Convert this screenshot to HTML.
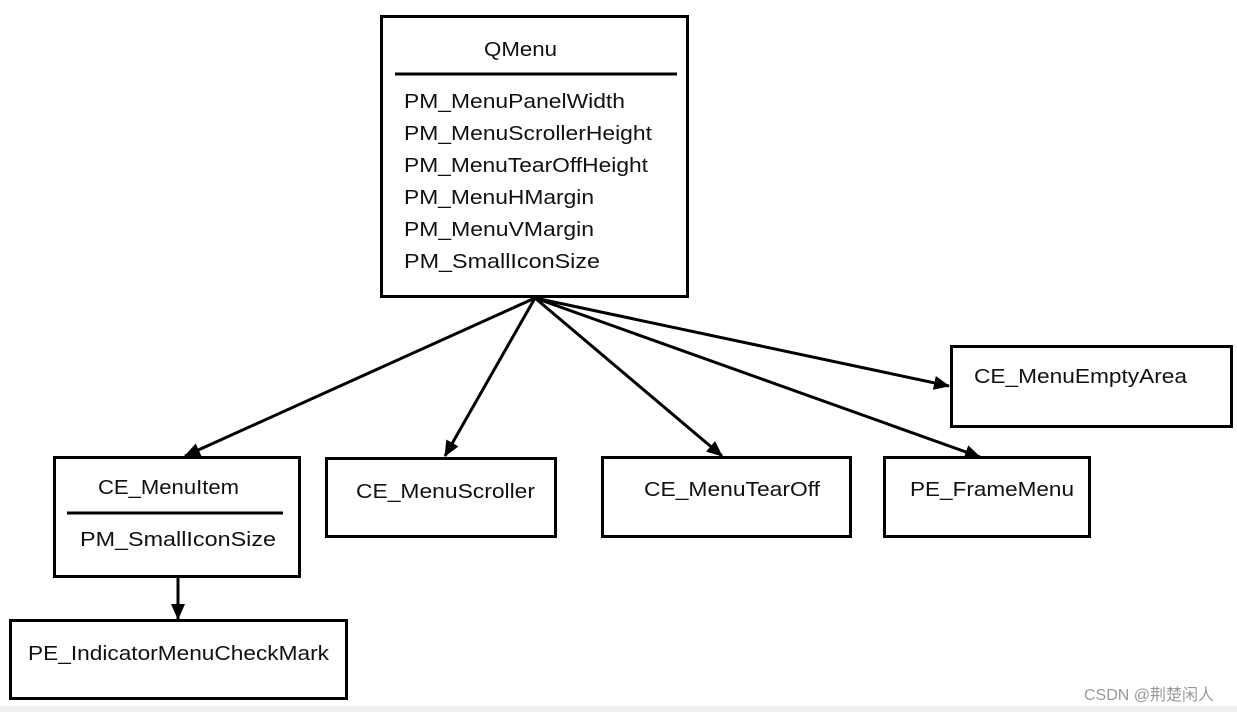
<!DOCTYPE html>
<html><head><meta charset="utf-8"><style>
html,body{margin:0;padding:0;background:#fff;}
svg{display:block;}
text{font-family:"Liberation Sans","DejaVu Sans",sans-serif;font-size:20px;fill:#111;}
</style></head><body>
<svg width="1237" height="712" viewBox="0 0 1237 712" xmlns="http://www.w3.org/2000/svg">
<defs>
<marker id="a" markerWidth="16" markerHeight="14" refX="15" refY="7" orient="auto" markerUnits="userSpaceOnUse">
<path d="M0,0 L16,7 L0,14 Z" fill="#000"/>
</marker>
</defs>
<rect x="0" y="706" width="1237" height="6" fill="#f0f0f0"/>
<g fill="none" stroke="#000" stroke-width="3">
<rect x="381.5" y="16.5" width="306" height="280"/>
<line x1="395" y1="74" x2="677" y2="74"/>
<rect x="54.5" y="457.5" width="245" height="119"/>
<line x1="67" y1="513" x2="283" y2="513"/>
<rect x="10.5" y="620.5" width="336" height="78"/>
<rect x="326.5" y="458.5" width="229" height="78"/>
<rect x="602.5" y="457.5" width="248" height="79"/>
<rect x="884.5" y="457.5" width="205" height="79"/>
<rect x="951.5" y="346.5" width="280" height="80"/>
</g>
<g stroke="#000" stroke-width="3" marker-end="url(#a)">
<line x1="535" y1="298" x2="185" y2="456"/>
<line x1="535" y1="298" x2="445" y2="456"/>
<line x1="535" y1="298" x2="722" y2="456"/>
<line x1="535" y1="298" x2="980" y2="457"/>
<line x1="535" y1="298" x2="949" y2="386"/>
<line x1="178" y1="578" x2="178" y2="619"/>
</g>
<text x="484" y="56" textLength="73" lengthAdjust="spacingAndGlyphs">QMenu</text>
<text x="404" y="108" textLength="221" lengthAdjust="spacingAndGlyphs">PM_MenuPanelWidth</text>
<text x="404" y="140" textLength="248" lengthAdjust="spacingAndGlyphs">PM_MenuScrollerHeight</text>
<text x="404" y="172" textLength="244" lengthAdjust="spacingAndGlyphs">PM_MenuTearOffHeight</text>
<text x="404" y="204" textLength="190" lengthAdjust="spacingAndGlyphs">PM_MenuHMargin</text>
<text x="404" y="236" textLength="190" lengthAdjust="spacingAndGlyphs">PM_MenuVMargin</text>
<text x="404" y="268" textLength="196" lengthAdjust="spacingAndGlyphs">PM_SmallIconSize</text>
<text x="98" y="494" textLength="141" lengthAdjust="spacingAndGlyphs">CE_MenuItem</text>
<text x="80" y="546" textLength="196" lengthAdjust="spacingAndGlyphs">PM_SmallIconSize</text>
<text x="28" y="660" textLength="301" lengthAdjust="spacingAndGlyphs">PE_IndicatorMenuCheckMark</text>
<text x="356" y="498" textLength="179" lengthAdjust="spacingAndGlyphs">CE_MenuScroller</text>
<text x="644" y="496" textLength="176" lengthAdjust="spacingAndGlyphs">CE_MenuTearOff</text>
<text x="910" y="496" textLength="164" lengthAdjust="spacingAndGlyphs">PE_FrameMenu</text>
<text x="974" y="383" textLength="213" lengthAdjust="spacingAndGlyphs">CE_MenuEmptyArea</text>
<text x="1084" y="700" style="font-size:16px;fill:#999;font-family:'Liberation Sans','Noto Sans CJK SC',sans-serif">CSDN @荆楚闲人</text>
</svg>
</body></html>
